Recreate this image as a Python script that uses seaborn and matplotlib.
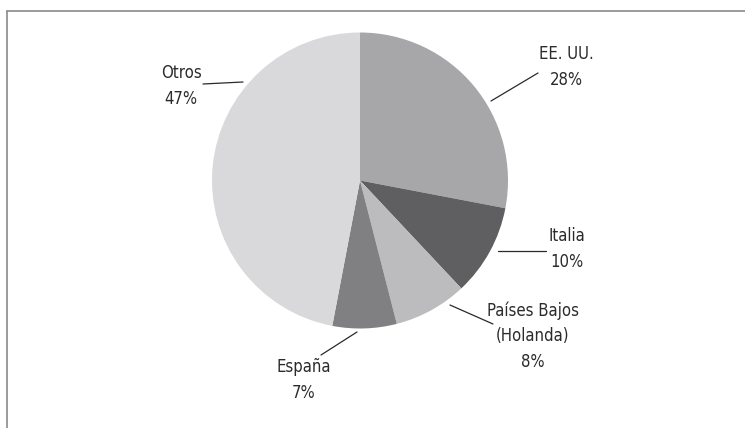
import matplotlib
matplotlib.use('Agg')
import matplotlib.pyplot as plt
from matplotlib import font_manager
import seaborn as sns

# data
paises = ['EE. UU.', 'Italia', 'Países Bajos\n(Holanda)', 'España', 'Otros']
porcentajes = [28, 10, 8, 7, 47]
colores = ['#a7a7a9', '#5f5f61', '#bcbcbe', '#808083', '#d9d9db']

# label layout in pixels (y measured from top): text centre, leader line ends
texto_pos = [(566, 67), (567, 249), (533, 336), (304, 380), (181, 86)]
linea_pos = [((491, 101), (538, 73)),
             ((498, 251), (546, 251)),
             ((450, 305), (493, 324)),
             ((321, 355), (357, 332)),
             ((203, 84), (243, 82))]

W, H = 745, 428

sns.set_theme(style='white')

# look for a narrow sans face, otherwise fall back to Roboto
fp = None
for f in font_manager.fontManager.ttflist:
    if f.name == 'Liberation Sans Narrow' and f.weight in (400, 'normal') and f.style == 'normal':
        fp = font_manager.FontProperties(fname=f.fname)
        break
if fp is None:
    for f in font_manager.fontManager.ttflist:
        if (f.name in ('Roboto', 'Open Sans', 'Noto Sans', 'DejaVu Sans')
                and 'condensed' in str(f.stretch).lower()
                and f.style == 'normal' and f.weight in (400, 'normal')):
            fp = font_manager.FontProperties(fname=f.fname)
            break
if fp is None:
    fp = font_manager.FontProperties(family=['Roboto', 'DejaVu Sans'])
plt.rcParams['font.family'] = ['Roboto', 'DejaVu Sans']

fig = plt.figure(figsize=(W / 100, H / 100), dpi=100)
ax = fig.add_axes([0, 0, 1, 1])

ax.pie(porcentajes, colors=colores, startangle=90, counterclock=False,
       radius=148, center=(360, H - 180.5), frame=True,
       wedgeprops={'linewidth': 0})
ax.set_xlim(0, W)
ax.set_ylim(0, H)
ax.set_aspect('equal')
ax.axis('off')

for nombre, pct, (tx, ty), ((x0, y0), (x1, y1)) in zip(paises, porcentajes, texto_pos, linea_pos):
    ax.plot([x0, x1], [H - y0, H - y1], color='#2a2a2a', lw=0.9)
    ax.text(tx, H - ty, f'{nombre}\n{pct}%', ha='center', va='center',
            fontproperties=fp, fontsize=12, color='#2b2b2b', linespacing=1.55)

# frame: only top and left edges
ax.plot([7, W], [H - 11, H - 11], color='#8a8a8a', lw=1.2, clip_on=False)
ax.plot([7, 7], [H - 11, 0], color='#8a8a8a', lw=1.2, clip_on=False)

fig.savefig('out.png', dpi=100)
